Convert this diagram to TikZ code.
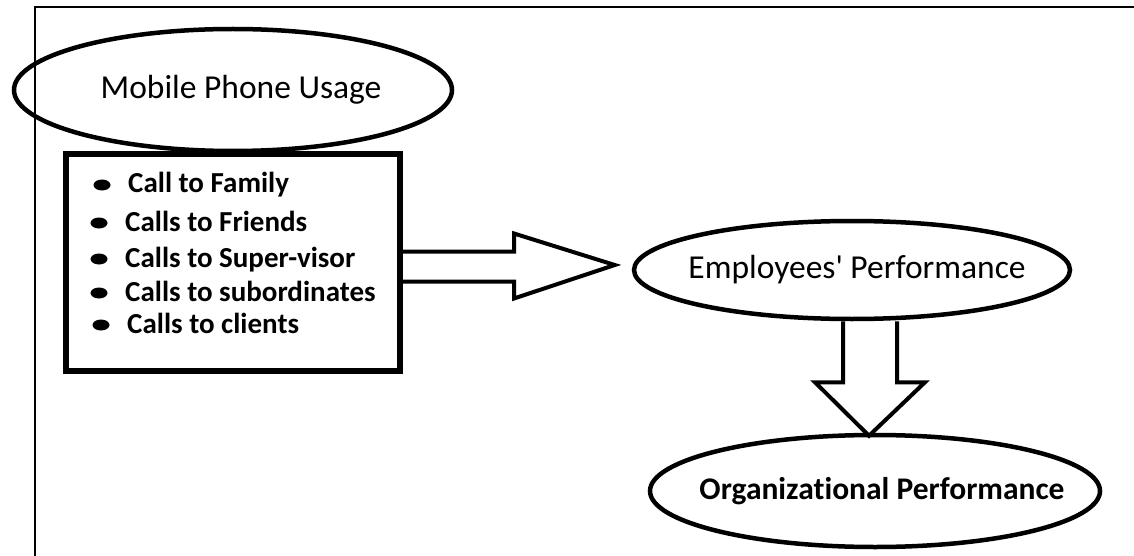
\documentclass[tikz,border=0pt]{standalone}
\usepackage{fontspec}
\setmainfont{Carlito}[Ligatures={TeX,NoCommon}]
\usetikzlibrary{shapes.geometric,calc}
\tikzset{
	oval/.style={draw, ellipse, line width=4.5pt, inner sep=0pt},
	listbox/.style={draw, fill=white, line width=6pt, inner sep=0pt},
	blockarrow/.style={line width=4pt, line join=miter},
	item/.style={anchor=base west, inner sep=0pt, font=\bfseries\fontsize{29}{34}\selectfont}
}
\begin{document}
\begin{tikzpicture}[x=1pt,y=-1pt]
	\useasboundingbox (0,0) rectangle (1134,556);
	%page frame, only left and top edges
	\draw[line width=2pt] (35,556) -- (35,7) -- (1134,7);

	%ovals, text in zero width boxes so the size stays fixed
	\node[oval, minimum width=438pt, minimum height=122pt, font=\fontsize{33.5}{40}\selectfont] (usage) at (233,90) {\makebox[0pt]{\hspace*{16pt}Mobile Phone Usage}};
	\node[oval, minimum width=436pt, minimum height=98pt, font=\fontsize{33.5}{40}\selectfont] (perf) at (852,270) {\makebox[0pt]{\hspace*{10pt}Employees\textquotesingle{} Performance}};
	\node[oval, minimum width=450pt, minimum height=112pt, font=\bfseries\fontsize{31.5}{37}\selectfont] (orgperf) at (875,491) {\makebox[0pt]{\hspace*{14pt}Organizational Performance}};

	%box with the kinds of calls, covers bottom of the top oval
	\node[listbox, minimum width=334pt, minimum height=217pt] (calls) at (233,262.5) {};
	\foreach \x/\y/\txt [count=\i] in {128/193/Call to Family, 125/231/Calls to Friends, 125/267/Calls to Super-visor, 125/301/Calls to subordinates, 127/333/Calls to clients}{
		\fill (\x-26,\y-8) ellipse (8.5 and 5.5);
		\node[item] (call\i) at (\x,\y) {\txt};
	}

	%hollow arrows
	\draw[blockarrow] ($(calls.east)+(0,-11)$) -- ++(111,0) -- ++(0,-18) -- ($(perf.west)+(-17,-5)$) -- ($(calls.east)+(111,36)$) -- ++(0,-17) -- ++(-111,0);
	\draw[blockarrow] ($(perf.south)+(-9,0)$) -- ++(0,61) -- ++(-28,0) -- ($(orgperf.north)+(-6,3)$) -- ($(perf.south)+(73,61)$) -- ++(-28,0) -- ++(0,-61);
\end{tikzpicture}
\end{document}
